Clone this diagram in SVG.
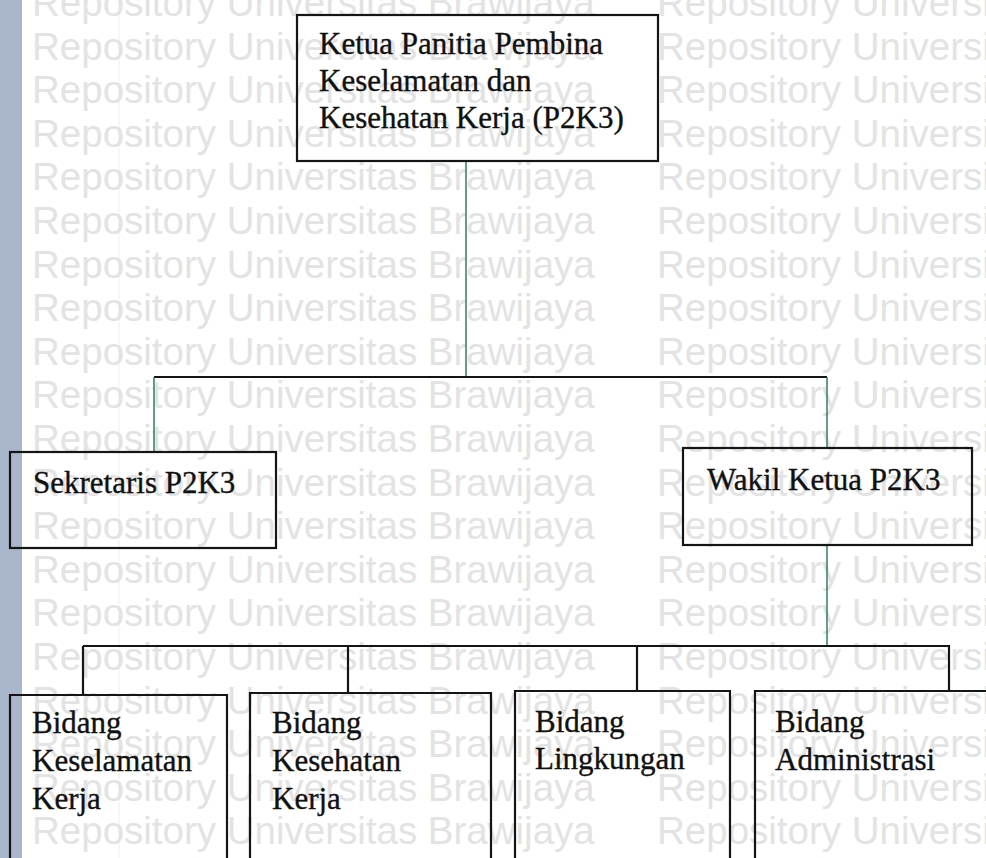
<svg xmlns="http://www.w3.org/2000/svg" width="986" height="858" viewBox="0 0 986 858">
  <style>
    .wm { font-family: "Liberation Sans", Arial, sans-serif; font-size: 38.5px; fill: #e3e3e3; }
    .box { fill: none; stroke: #151515; stroke-width: 2.2; }
    .lbl { font-family: "Liberation Serif", "Times New Roman", serif; font-size: 31px; fill: #111; stroke: #111; stroke-width: 0.35; }
    .green { fill: none; stroke: #2f7f5f; stroke-width: 1.5; }
    .black { fill: none; stroke: #141414; stroke-width: 2.2; }
  </style>

  <!-- page background and left margin band -->
  <rect x="0" y="0" width="986" height="858" fill="#ffffff"/>
  <rect x="0" y="0" width="22" height="858" fill="#aab6cb"/>
  <line x1="119" y1="0" x2="119" y2="858" stroke="#efefef" stroke-width="1"/>

  <!-- repeated background watermark -->
  <g id="watermark" class="wm">
    <text y="16"><tspan x="32">Repository Universitas Brawijaya</tspan><tspan x="657">Repository Universitas Brawijaya</tspan></text>
    <text y="59.6"><tspan x="32">Repository Universitas Brawijaya</tspan><tspan x="657">Repository Universitas Brawijaya</tspan></text>
    <text y="103.2"><tspan x="32">Repository Universitas Brawijaya</tspan><tspan x="657">Repository Universitas Brawijaya</tspan></text>
    <text y="146.8"><tspan x="32">Repository Universitas Brawijaya</tspan><tspan x="657">Repository Universitas Brawijaya</tspan></text>
    <text y="190.4"><tspan x="32">Repository Universitas Brawijaya</tspan><tspan x="657">Repository Universitas Brawijaya</tspan></text>
    <text y="234"><tspan x="32">Repository Universitas Brawijaya</tspan><tspan x="657">Repository Universitas Brawijaya</tspan></text>
    <text y="277.6"><tspan x="32">Repository Universitas Brawijaya</tspan><tspan x="657">Repository Universitas Brawijaya</tspan></text>
    <text y="321.2"><tspan x="32">Repository Universitas Brawijaya</tspan><tspan x="657">Repository Universitas Brawijaya</tspan></text>
    <text y="364.8"><tspan x="32">Repository Universitas Brawijaya</tspan><tspan x="657">Repository Universitas Brawijaya</tspan></text>
    <text y="408.4"><tspan x="32">Repository Universitas Brawijaya</tspan><tspan x="657">Repository Universitas Brawijaya</tspan></text>
    <text y="452"><tspan x="32">Repository Universitas Brawijaya</tspan><tspan x="657">Repository Universitas Brawijaya</tspan></text>
    <text y="495.6"><tspan x="32">Repository Universitas Brawijaya</tspan><tspan x="657">Repository Universitas Brawijaya</tspan></text>
    <text y="539.2"><tspan x="32">Repository Universitas Brawijaya</tspan><tspan x="657">Repository Universitas Brawijaya</tspan></text>
    <text y="582.8"><tspan x="32">Repository Universitas Brawijaya</tspan><tspan x="657">Repository Universitas Brawijaya</tspan></text>
    <text y="626.4"><tspan x="32">Repository Universitas Brawijaya</tspan><tspan x="657">Repository Universitas Brawijaya</tspan></text>
    <text y="670"><tspan x="32">Repository Universitas Brawijaya</tspan><tspan x="657">Repository Universitas Brawijaya</tspan></text>
    <text y="713.6"><tspan x="32">Repository Universitas Brawijaya</tspan><tspan x="657">Repository Universitas Brawijaya</tspan></text>
    <text y="757.2"><tspan x="32">Repository Universitas Brawijaya</tspan><tspan x="657">Repository Universitas Brawijaya</tspan></text>
    <text y="800.8"><tspan x="32">Repository Universitas Brawijaya</tspan><tspan x="657">Repository Universitas Brawijaya</tspan></text>
    <text y="844.4"><tspan x="32">Repository Universitas Brawijaya</tspan><tspan x="657">Repository Universitas Brawijaya</tspan></text>
  </g>

  <!-- connectors -->
  <g id="connectors">
    <path class="green" d="M466,161 V377"/>
    <path class="black" d="M154,377 H827" stroke-width="2.6"/>
    <path class="green" d="M154,377 V452"/>
    <path class="green" d="M827,377 V448"/>
    <path class="green" d="M827,545 V645"/>
    <path class="black" d="M83,646 H949"/>
    <path class="black" d="M83,646 V695"/>
    <path class="black" d="M348,646 V693"/>
    <path class="black" d="M637,645 V691"/>
    <path class="black" d="M949,645 V691"/>
  </g>

  <!-- chairman -->
  <g id="ketua">
    <rect class="box" x="297" y="15" width="361" height="146"/>
    <text class="lbl" x="319" y="54">Ketua Panitia Pembina</text>
    <text class="lbl" x="319" y="91">Keselamatan dan</text>
    <text class="lbl" x="319" y="128">Kesehatan Kerja (P2K3)</text>
  </g>

  <!-- secretary -->
  <g id="sekretaris">
    <rect class="box" x="10" y="452" width="266" height="96"/>
    <text class="lbl" x="33" y="493">Sekretaris P2K3</text>
  </g>

  <!-- vice chairman -->
  <g id="wakil">
    <rect class="box" x="683" y="448" width="289" height="97"/>
    <text class="lbl" x="707" y="490">Wakil Ketua P2K3</text>
  </g>

  <!-- divisions (boxes run past the lower edge) -->
  <g id="bidang-keselamatan">
    <path class="box" d="M10,860 V695 H227 V860"/>
    <text class="lbl" x="32" y="733">Bidang</text>
    <text class="lbl" x="32" y="771">Keselamatan</text>
    <text class="lbl" x="32" y="809">Kerja</text>
  </g>

  <g id="bidang-kesehatan">
    <path class="box" d="M250,860 V693 H491 V860"/>
    <text class="lbl" x="272" y="733">Bidang</text>
    <text class="lbl" x="272" y="771">Kesehatan</text>
    <text class="lbl" x="272" y="809">Kerja</text>
  </g>

  <g id="bidang-lingkungan">
    <path class="box" d="M515,860 V691 H730 V860"/>
    <text class="lbl" x="535" y="732">Bidang</text>
    <text class="lbl" x="535" y="769">Lingkungan</text>
  </g>

  <g id="bidang-administrasi">
    <path class="box" d="M755,860 V691 H990"/>
    <text class="lbl" x="775" y="732">Bidang</text>
    <text class="lbl" x="775" y="770">Administrasi</text>
  </g>
</svg>
